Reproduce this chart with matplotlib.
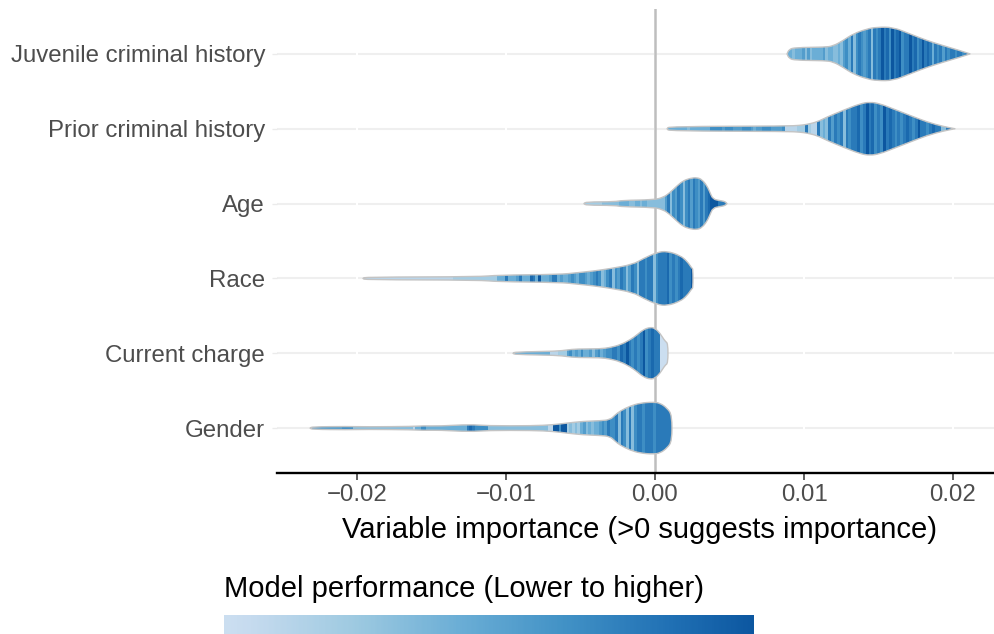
import numpy as np
import matplotlib
matplotlib.use("Agg")
import matplotlib.pyplot as plt
from matplotlib.colors import ListedColormap
from matplotlib.patches import PathPatch
from matplotlib.path import Path

plt.rcParams['font.family'] = ['Liberation Sans', 'DejaVu Sans']

# Переменные сверху вниз
variables = ['Juvenile criminal history', 'Prior criminal history', 'Age',
             'Race', 'Current charge', 'Gender']

# Контуры "скрипок": значение важности и полуширина (в долях шага между строками)
juvenile_x = [0.00886, 0.0090, 0.0094, 0.0114, 0.01195, 0.01262, 0.01329, 0.01423,
              0.0149, 0.01597, 0.01711, 0.01826, 0.01933, 0.02047, 0.02114]
juvenile_w = [0.0, 0.06, 0.085, 0.09, 0.105, 0.178, 0.267, 0.334,
              0.357, 0.357, 0.267, 0.178, 0.111, 0.044, 0.0]

prior_x = [0.00081, 0.00094, 0.00886, 0.00973, 0.0102, 0.01087, 0.01154, 0.01262,
           0.01376, 0.01443, 0.0151, 0.01597, 0.01711, 0.01826, 0.01933, 0.02013]
prior_w = [0.0, 0.03, 0.036, 0.045, 0.058, 0.09, 0.156, 0.245,
           0.334, 0.357, 0.334, 0.267, 0.178, 0.09, 0.031, 0.0]

age_x = [-0.00477, -0.00463, -0.00268, -0.00221, -0.00013, 0.00054, 0.00101, 0.00148,
         0.00188, 0.00235, 0.00282, 0.00315, 0.00349, 0.00369, 0.00389, 0.00436,
         0.0047, 0.00483]
age_w = [0.0, 0.022, 0.024, 0.043, 0.05, 0.08, 0.147, 0.237,
         0.303, 0.338, 0.348, 0.321, 0.237, 0.147, 0.058, 0.04,
         0.027, 0.0]

race_x = [-0.0196, -0.01946, -0.01174, -0.0106, -0.00638, -0.00523, -0.00416, -0.00302,
          -0.00148, -0.00081, 0.00013, 0.00081, 0.00168, 0.00215, 0.00248, 0.00255]
race_w = [0.0, 0.018, 0.022, 0.044, 0.053, 0.076, 0.098, 0.13,
          0.187, 0.263, 0.348, 0.365, 0.307, 0.231, 0.134, 0.125]

charge_x = [-0.00953, -0.0094, -0.00658, -0.00591, -0.00523, -0.00369, -0.00302, -0.00235,
            -0.00168, -0.00121, -0.00081, -0.00034, 0.0, 0.00034, 0.00067, 0.00087]
charge_w = [0.0, 0.017, 0.027, 0.044, 0.058, 0.058, 0.076, 0.111,
            0.178, 0.245, 0.312, 0.348, 0.334, 0.267, 0.16, 0.134]

gender_x = [-0.02315, -0.02302, -0.02067, -0.01933, -0.01624, -0.01557, -0.01443, -0.01242,
            -0.01128, -0.00819, -0.00685, -0.00591, -0.00483, -0.00369, -0.00302, -0.00268,
            -0.00235, -0.00168, -0.00101, -0.00013, 0.00034, 0.00081, 0.00114]
gender_w = [0.0, 0.017, 0.022, 0.017, 0.022, 0.031, 0.027, 0.049,
            0.031, 0.031, 0.044, 0.067, 0.09, 0.098, 0.111, 0.174,
            0.227, 0.294, 0.334, 0.348, 0.334, 0.267, 0.174]

# Качество моделей вдоль оси важности (0 - хуже, 9 - лучше)
juvenile_perf = "443444535344445344" "334356473676567376" "7978697896779" "78679787476757677677677"
prior_perf = ("444444434444444" "66665666" "555666545566655556" "1111222" "72117"
              "3437576737" "67786797867697876" "76787679776787" "733777")
age_perf = "22222223333333" "4444334434433" "33333" "5736576367576575" "789997" "776"
race_perf = ("1111111111111111111111111111111112222222222222222"
             "44474445744487494445774" "544565466545676" "346736576357637"
             "7677367778676787779")
charge_perf = "4444444444444" "111222" "5645464" "45356456" "67768797676796787" "7" "000"
gender_perf = ("555555555555" "6666" "3333333333333333333333" "14466" "444444444444444"
               "7876" "6666" "3333333333333333333333" "11" "99699" "23232" "4534344"
               "56576" "6737637367" "767776777777")

shapes = [(juvenile_x, juvenile_w, juvenile_perf),
          (prior_x, prior_w, prior_perf),
          (age_x, age_w, age_perf),
          (race_x, race_w, race_perf),
          (charge_x, charge_w, charge_perf),
          (gender_x, gender_w, gender_perf)]

ticks = [-0.02, -0.01, 0.0, 0.01, 0.02]
tick_labels = ['\u22120.02', '\u22120.01', '0.00', '0.01', '0.02']

blues = ListedColormap(plt.cm.Blues(np.linspace(0.22, 0.85, 256)))


def smooth_outline(verts):
    # замкнутый контур из квадратичных кривых Безье (вершины - контрольные точки)
    n = len(verts)
    mids = (verts + np.roll(verts, -1, axis=0)) / 2
    pts = [mids[-1]]
    codes = [Path.MOVETO]
    for i in range(n):
        pts += [verts[i], mids[i]]
        codes += [Path.CURVE3, Path.CURVE3]
    pts.append(mids[-1])
    codes.append(Path.CLOSEPOLY)
    return Path(np.array(pts), codes)


W, H = 995, 634
fig = plt.figure(figsize=(W / 100, H / 100), dpi=100)
ax = fig.add_axes([277 / W, 1 - 473 / H, (995 - 277) / W, (473 - 9) / H])

n = len(variables)
ypos = np.arange(n, 0, -1)

# сетка
for y in ypos:
    ax.axhline(y, color='#efefef', lw=1.5, zorder=0)
for t in ticks:
    ax.axvline(t, color='white', lw=1.5, zorder=0.5)
ax.axvline(0, color='#bebebe', lw=1.8, zorder=1)

for y, (xs, ws, perf) in zip(ypos, shapes):
    xs = np.array(xs)
    ws = np.array(ws)
    verts = np.concatenate([np.column_stack([xs, y + ws]),
                            np.column_stack([xs[::-1], y - ws[::-1]])])
    outline = smooth_outline(verts)
    levels = np.array([[int(c) for c in perf]])
    im = ax.imshow(levels, cmap=blues, vmin=0, vmax=9, aspect='auto',
                   interpolation='nearest', extent=(xs[0], xs[-1], y - 0.4, y + 0.4),
                   zorder=2)
    clip = PathPatch(outline, facecolor='none', edgecolor='none', transform=ax.transData)
    ax.add_patch(clip)
    im.set_clip_path(clip)
    ax.add_patch(PathPatch(outline, facecolor='none', edgecolor='#c4c4c4',
                           lw=1.0, joinstyle='round', zorder=3))

ax.set_xlim((277 - 655) / 14900, (995 - 655) / 14900)
ax.set_ylim(0.4, 6.6)
ax.set_yticks(ypos)
ax.set_yticklabels(variables)
ax.set_xticks(ticks)
ax.set_xticklabels(tick_labels)
for s in ['left', 'right', 'top']:
    ax.spines[s].set_visible(False)
ax.spines['bottom'].set_linewidth(1.7)
ax.spines['bottom'].set_color('black')
ax.tick_params(axis='y', length=3.6, color='#ebebeb', width=1.0, pad=5,
               labelsize=17.3, labelcolor='#4d4d4d')
ax.tick_params(axis='x', length=5, color='#333333', width=1.1, pad=3,
               labelsize=17.3, labelcolor='#4d4d4d')

fig.text(640 / W, 1 - 538 / H, 'Variable importance (>0 suggests importance)',
         ha='center', va='baseline', fontsize=21, color='black')

# легенда: градиент качества моделей
fig.text(224 / W, 1 - 597 / H, 'Model performance (Lower to higher)',
         ha='left', va='baseline', fontsize=21, color='black')
cax = fig.add_axes([224 / W, 0, (754 - 224) / W, 19 / H])
cax.imshow(np.linspace(0, 1, 256)[None, :], cmap=blues, aspect='auto')
cax.set_axis_off()

fig.savefig('out.png', dpi=100)
